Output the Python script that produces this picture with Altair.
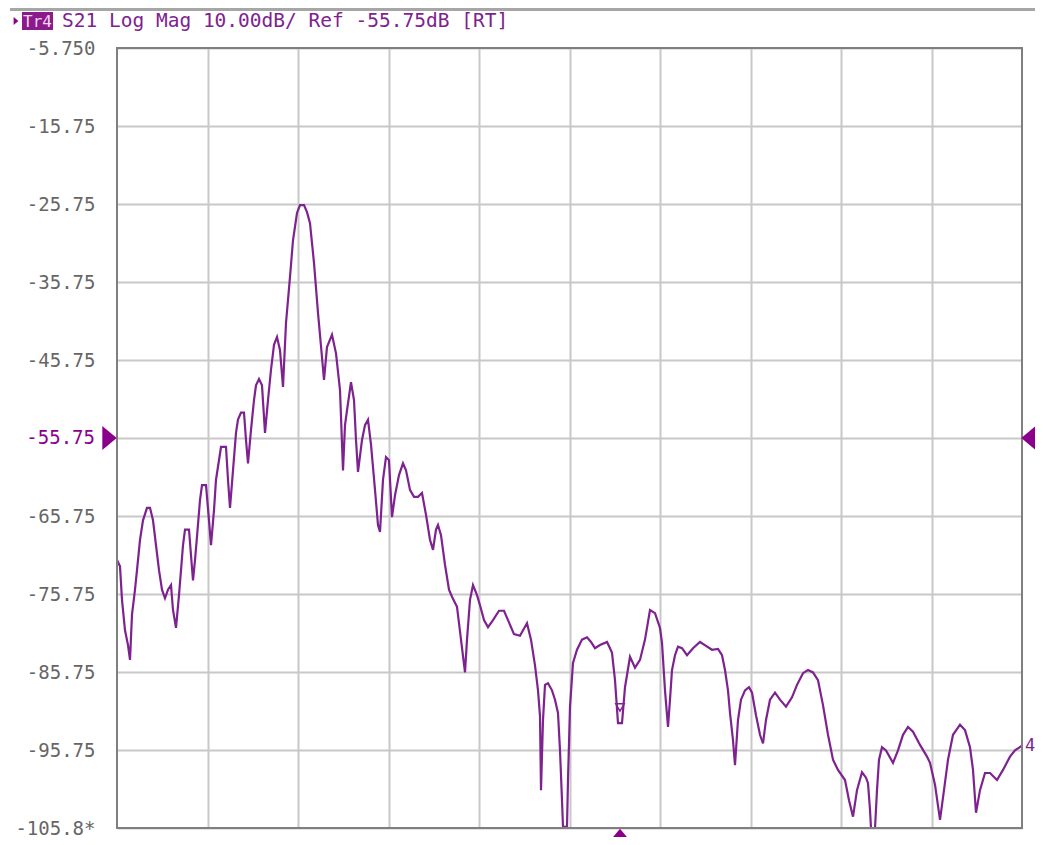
import altair as alt
import pandas as pd

# ---- data (sweep point index, S21 in dB) ----
sweep_point = [
    0, 3, 5, 8, 11, 13, 15, 18, 20, 23,
    26, 30, 33, 36, 39, 42, 45, 48, 51, 54,
    56, 59, 62, 64, 66, 68, 72, 74, 76, 78,
    80, 83, 85, 89, 92, 94, 97, 99, 102, 104,
    109, 111, 113, 116, 119, 121, 124, 127, 129, 131,
    134, 137, 139, 142, 145, 148, 151, 154, 157, 160,
    163, 166, 169, 173, 176, 180, 183, 187, 190, 193,
    197, 201, 205, 207, 210, 215, 219, 223, 226, 228,
    230, 234, 237, 239, 241, 245, 248, 251, 254, 258,
    261, 263, 266, 269, 272, 275, 278, 282, 286, 289,
    293, 297, 301, 305, 309, 313, 316, 319, 321, 324,
    328, 332, 335, 340, 344, 348, 350, 353, 356, 360,
    363, 367, 371, 376, 382, 387, 391, 397, 403, 410,
    414, 418, 421, 423, 424, 426, 428, 431, 435, 438,
    441, 443, 445, 446, 450, 451, 453, 456, 460, 465,
    470, 474, 478, 483, 490, 493, 495, 498, 501, 505,
    508, 513, 518, 523, 528, 533, 538, 543, 545, 548,
    551, 553, 555, 558, 561, 565, 570, 576, 583, 589,
    595, 601, 605, 608, 611, 613, 616, 618, 621, 624,
    628, 632, 635, 639, 643, 646, 649, 653, 658, 663,
    669, 675, 680, 686, 691, 696, 701, 706, 711, 716,
    721, 728, 732, 736, 740, 745, 749, 751, 753, 754,
    758, 760, 762, 765, 769, 776, 781, 786, 791, 796,
    803, 810, 813, 818, 823, 827, 831, 836, 843, 848,
    853, 856, 859, 863, 868, 873, 880, 886, 893, 898,
    905,
]

s21_db = [
    -71.4, -72.2, -76.5, -80.4, -82.3, -84.2, -78.4, -75.2, -72.7, -68.8,
    -66.3, -64.7, -64.7, -66.3, -69.5, -72.7, -75.2, -76.3, -75.2, -74.6,
    -77.8, -80.1, -75.9, -72.7, -69.5, -67.5, -67.5, -70.8, -74.0, -71.4,
    -68.4, -63.7, -61.8, -61.8, -66.3, -69.5, -65.0, -61.1, -58.6, -56.9,
    -56.9, -61.1, -64.7, -59.9, -55.1, -53.4, -52.5, -52.5, -56.0, -59.0,
    -54.7, -50.9, -49.0, -48.2, -49.0, -55.1, -50.9, -47.0, -43.8, -42.8,
    -44.5, -49.2, -41.0, -35.1, -30.4, -26.9, -25.9, -25.9, -26.8, -28.2,
    -33.3, -39.7, -45.4, -48.3, -44.1, -42.5, -44.9, -49.6, -59.9, -54.1,
    -52.2, -48.6, -50.9, -56.0, -60.1, -56.0, -54.1, -53.4, -56.6, -62.4,
    -66.9, -67.8, -61.1, -58.2, -58.6, -65.9, -63.1, -60.5, -59.0, -59.9,
    -62.4, -63.3, -63.3, -62.8, -65.6, -68.8, -70.1, -67.5, -66.9, -68.2,
    -72.0, -75.2, -76.1, -77.4, -81.6, -85.8, -81.6, -76.5, -74.6, -75.9,
    -77.2, -79.1, -80.0, -79.1, -77.9, -77.9, -79.1, -80.9, -81.1, -79.5,
    -81.6, -84.9, -88.1, -91.4, -100.9, -91.9, -87.4, -87.2, -88.1, -89.3,
    -91.0, -95.8, -102.2, -105.6, -105.6, -99.6, -90.2, -84.6, -82.9, -81.6,
    -81.3, -81.9, -82.7, -82.3, -81.9, -82.7, -83.3, -86.8, -92.3, -92.3,
    -87.7, -83.8, -85.2, -84.2, -81.6, -77.8, -78.2, -80.1, -82.0, -88.1,
    -92.8, -89.3, -85.5, -83.6, -82.5, -82.7, -83.6, -82.7, -81.9, -82.4,
    -82.9, -82.8, -83.6, -85.5, -88.1, -91.0, -94.5, -97.7, -91.9, -89.3,
    -88.1, -87.7, -88.4, -91.3, -93.8, -94.9, -91.9, -89.3, -88.4, -89.3,
    -90.2, -89.0, -87.4, -85.9, -85.5, -85.8, -86.8, -90.0, -93.8, -97.0,
    -98.3, -99.6, -102.2, -104.3, -100.9, -98.6, -99.3, -100.0, -103.4, -105.8,
    -105.8, -100.9, -97.0, -95.4, -95.8, -97.4, -95.8, -93.8, -92.8, -93.4,
    -95.1, -96.6, -97.4, -100.2, -104.7, -100.9, -97.0, -93.8, -92.5, -93.2,
    -95.4, -98.3, -103.8, -100.9, -98.7, -98.7, -99.6, -98.3, -96.6, -95.8,
    -95.2,
]

y_ticks = [-5.75, -15.75, -25.75, -35.75, -45.75, -55.75,
           -65.75, -75.75, -85.75, -95.75, -105.75]
x_grid = [90.5, 181, 271.5, 362, 452.5, 543, 633.5, 724, 814.5]
ref_level = -55.75
ref_label = "-55.75"
marker_point = 503
marker_db = -90.3
title_text = "S21 Log Mag 10.00dB/ Ref -55.75dB [RT]"
trace_label = "Tr4"

assert len(sweep_point) == len(s21_db)

df = pd.DataFrame({"pt": sweep_point, "db": s21_db})

W, H = 905, 780
PURPLE = "#7e2290"
MARK = "#8b008b"
GRID = "#c8c8c8"
BORDER = "#7f7f7f"
LABEL_GRAY = "#666666"
MONO = "DejaVu Sans Mono"
LABEL_SIZE = 19
LABEL_PAD = 22

xscale = alt.Scale(domain=[0, 905], nice=False, zero=False)
yscale = alt.Scale(domain=[-105.75, -5.75], nice=False, zero=False)

# the reference-level label is drawn separately in purple
label_expr = ("datum.value > -6 ? '-5.750' : (datum.value < -105 ? '-105.8*' : "
              "(datum.value < -55 && datum.value > -56.5 ? '' : "
              "'-' + format(-datum.value, '.2f')))")

x_axis = alt.Axis(values=x_grid, labels=False, ticks=False, domain=False,
                  grid=True, gridColor=GRID, gridWidth=2, title=None)
y_axis = alt.Axis(values=y_ticks, labelExpr=label_expr, ticks=False,
                  domain=False, grid=True, gridColor=GRID, gridWidth=2,
                  title=None, labelFont=MONO, labelFontSize=LABEL_SIZE,
                  labelPadding=LABEL_PAD, labelColor=LABEL_GRAY)


def X():
    return alt.X("pt:Q", scale=xscale, axis=x_axis)


def Y():
    return alt.Y("db:Q", scale=yscale, axis=y_axis)


trace = alt.Chart(df).mark_line(color=PURPLE, strokeWidth=2.2, clip=True).encode(
    x=X(), y=Y()
)

one = pd.DataFrame({"a": [0]})

border = alt.Chart(one).mark_rect(fillOpacity=0, stroke=BORDER, strokeWidth=2).encode(
    x=alt.value(0), x2=alt.value(W), y=alt.value(0), y2=alt.value(H)
)

ref_df = pd.DataFrame({"db": [ref_level], "label": [ref_label]})
left_tri = alt.Chart(ref_df).mark_point(
    shape="M -0.6 -1 L 0.6 0 L -0.6 1 Z", filled=True, color=MARK, opacity=1, size=576
).encode(x=alt.value(-7.5), y=Y())
right_tri = alt.Chart(ref_df).mark_point(
    shape="M 0.6 -1 L -0.6 0 L 0.6 1 Z", filled=True, color=MARK, opacity=1, size=576
).encode(x=alt.value(W + 6.5), y=Y())
ref_text = alt.Chart(ref_df).mark_text(
    align="right", baseline="middle", font=MONO, fontSize=LABEL_SIZE, fill=MARK,
    color=MARK, opacity=1
).encode(x=alt.value(-LABEL_PAD), y=Y(), text="label:N")

bot_df = pd.DataFrame({"pt": [marker_point]})
bottom_tri = alt.Chart(bot_df).mark_point(
    shape="M -1 0.6 L 0 -0.6 L 1 0.6 Z", filled=True, color=MARK, opacity=1, size=676
).encode(x=X(), y=alt.value(H + 8.5))

mk_df = pd.DataFrame({"pt": [marker_point], "db": [marker_db]})
marker = alt.Chart(mk_df).mark_point(
    shape="triangle-down", filled=False, color=PURPLE, strokeWidth=1.5, size=70, opacity=1
).encode(x=X(), y=Y())

end_df = df.tail(1)
end_label = alt.Chart(end_df).mark_text(
    text="4", align="left", baseline="middle", dx=3, font=MONO, fontSize=17, color=PURPLE
).encode(x=X(), y=Y())

top_line = alt.Chart(one).mark_rule(color="#a6a6a6", strokeWidth=4).encode(
    x=alt.value(-107), x2=alt.value(W + 30), y=alt.value(-39)
)

tr_box = alt.Chart(one).mark_rect(color="#8b1a8b").encode(
    x=alt.value(-95), x2=alt.value(-64), y=alt.value(-36), y2=alt.value(-18)
)
tr_text = alt.Chart(one).mark_text(
    text=trace_label, align="center", baseline="middle", font=MONO, fontSize=16,
    color="#f6d8f2"
).encode(x=alt.value(-79.5), y=alt.value(-26.5))
tr_arrow = alt.Chart(one).mark_point(
    shape="M -0.6 -1 L 0.6 0 L -0.6 1 Z", filled=True, color=MARK, opacity=1, size=64
).encode(x=alt.value(-101), y=alt.value(-27))

title = alt.Chart(one).mark_text(
    text=title_text, align="left", baseline="middle", font=MONO, fontSize=19.5,
    color=PURPLE
).encode(x=alt.value(-55), y=alt.value(-27))

chart = alt.layer(
    trace, border, left_tri, right_tri, ref_text, bottom_tri, marker, end_label,
    top_line, tr_box, tr_text, tr_arrow, title
).properties(
    width=W, height=H,
    autosize=alt.AutoSizeParams(type="none"),
    padding={"left": 109, "top": 40, "right": 13, "bottom": 9},
    background="white",
).configure_view(stroke=None)

chart.save("out.html", embed_options={"renderer": "svg", "actions": False})
